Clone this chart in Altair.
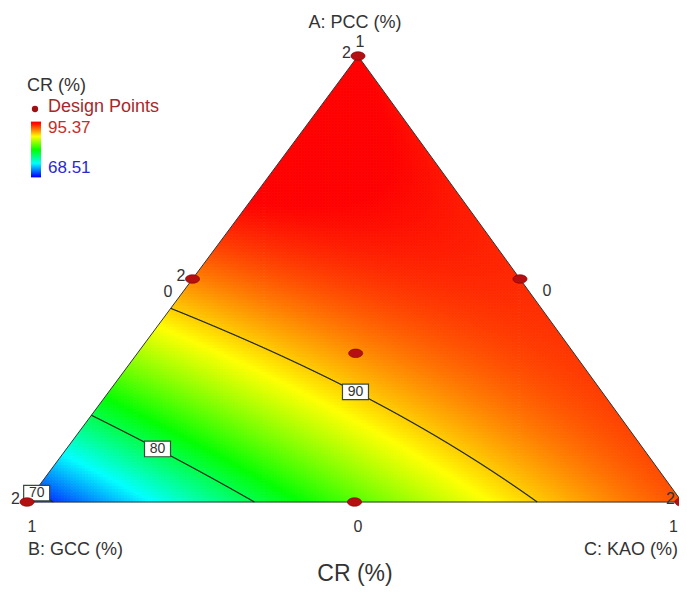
import numpy as np
import pandas as pd
import altair as alt

# ---------------- data ----------------
axis_titles = ["A: PCC (%)", "B: GCC (%)", "C: KAO (%)"]
response_title = "CR (%)"
cr_low, cr_high = 68.51, 95.37
# Scheffe quadratic mixture model: A, B, C, AB, AC, BC
model_terms = ["A", "B", "C", "AB", "AC", "BC"]
model_coefs = [95.37, 68.51, 93.28, 40.0, 0.0, 12.75]
contour_levels = [70, 80, 90]
contour_label_A = [0.02, 0.119, 0.247]
# design points (fractions of A, B, C) and replicate counts
design_A = [1.0, 0.0, 0.0, 0.5, 0.5, 0.0, 1 / 3]
design_B = [0.0, 1.0, 0.0, 0.5, 0.0, 0.5, 1 / 3]
design_C = [0.0, 0.0, 1.0, 0.0, 0.5, 0.5, 1 / 3]
design_reps = [2, 2, 2, 2, 1, 1, 1]
color_stops = ["#0000ff", "#00ffff", "#00ff00", "#ffff00", "#ff0000"]

# ---------------- layout ----------------
W, H = 671, 578
VA = (350.0, 48.0)   # vertex A (top)
VB = (19.0, 494.0)   # vertex B (bottom-left)
VC = (674.0, 494.0)  # vertex C (bottom-right)
FONT = "Liberation Sans"
TXT = "#333333"

xs = alt.Scale(domain=[0, W], nice=False, zero=False)
ys = alt.Scale(domain=[0, H], nice=False, zero=False, reverse=True)
stop_dom = list(np.linspace(cr_low, cr_high, len(color_stops)))
cscale = alt.Scale(domain=stop_dom, range=color_stops, clamp=True, interpolate="rgb")


def model(a, b, c):
    bA, bB, bC, bAB, bAC, bBC = model_coefs
    return bA * a + bB * b + bC * c + bAB * a * b + bAC * a * c + bBC * b * c


def to_xy(a, b, c):
    return (VA[0] * a + VB[0] * b + VC[0] * c, VA[1] * a + VB[1] * b + VC[1] * c)


def solve_C(a, level):
    bA, bB, bC, bAB, bAC, bBC = model_coefs
    qa = -bBC
    qb = -bB + bC - bAB * a + bAC * a + bBC * (1 - a)
    qc = bA * a + bB * (1 - a) + bAB * a * (1 - a) - level
    if abs(qa) < 1e-12:
        roots = [-qc / qb]
    else:
        d = qb * qb - 4 * qa * qc
        if d < 0:
            return None
        roots = [(-qb + np.sqrt(d)) / (2 * qa), (-qb - np.sqrt(d)) / (2 * qa)]
    ok = [r for r in roots if -1e-9 <= r <= 1 - a + 1e-9]
    return min(ok) if ok else None


# grid of cells
step = 3.0
rows = []
for cy in np.arange(VA[1] - step, VB[1] + step, step):
    a = (VB[1] - cy) / (VB[1] - VA[1])
    if a > 1.005:
        continue
    for cx in np.arange(VB[0] - step, VC[0] + step, step):
        c = (cx - VB[0] - a * (VA[0] - VB[0])) / (VC[0] - VB[0])
        b = 1 - a - c
        if a < -0.012 or b < -0.012 or c < -0.012:
            continue
        aa, bb, cc = max(a, 0), max(b, 0), max(c, 0)
        s = aa + bb + cc
        rows.append((round(cx, 1), round(cy, 1), round(model(aa / s, bb / s, cc / s), 2)))
grid = pd.DataFrame(rows, columns=["cx", "cy", "v"])

surface = alt.Chart(grid).transform_calculate(
    x0="datum.cx - 1.85", x1="datum.cx + 1.85", y0="datum.cy - 1.85", y1="datum.cy + 1.85"
).mark_rect(strokeWidth=0).encode(
    x=alt.X("x0:Q", scale=xs, axis=None), x2="x1:Q",
    y=alt.Y("y0:Q", scale=ys, axis=None), y2="y1:Q",
    color=alt.Color("v:Q", scale=cscale, legend=None),
)

# masks outside triangle
lm = pd.DataFrame({"x": [0, VB[0], VA[0]], "y": [VB[1], VB[1], VA[1]], "y2": [0, 0, 0]})
rm = pd.DataFrame({"x": [VA[0], VC[0], W + 10], "y": [VA[1], VC[1], VC[1]], "y2": [0, 0, 0]})
mask_l = alt.Chart(lm).mark_area(color="white").encode(
    x=alt.X("x:Q", scale=xs, axis=None), y=alt.Y("y:Q", scale=ys, axis=None), y2="y2:Q")
mask_r = alt.Chart(rm).mark_area(color="white").encode(
    x=alt.X("x:Q", scale=xs, axis=None), y=alt.Y("y:Q", scale=ys, axis=None), y2="y2:Q")
bm = pd.DataFrame({"x": [0], "x2": [W + 10], "y": [VB[1] + 0.3], "y2": [VB[1] + 15]})
mask_b = alt.Chart(bm).mark_rect(color="white").encode(
    x=alt.X("x:Q", scale=xs, axis=None), x2="x2:Q",
    y=alt.Y("y:Q", scale=ys, axis=None), y2="y2:Q")

# triangle border
tri = pd.DataFrame({"x": [VA[0], VB[0], VC[0], VA[0]], "y": [VA[1], VB[1], VC[1], VA[1]], "o": [0, 1, 2, 3]})
border = alt.Chart(tri).mark_line(color="#333333", strokeWidth=1).encode(
    x=alt.X("x:Q", scale=xs, axis=None), y=alt.Y("y:Q", scale=ys, axis=None), order="o:Q")

# contours
crow = []
lab = []
for lev, la in zip(contour_levels, contour_label_A):
    pts = []
    for a in np.linspace(0, 1, 4001):
        c = solve_C(a, lev)
        if c is None:
            continue
        pts.append((a, c))
    bA, bB, bC, bAB, bAC, bBC = model_coefs
    qa, qb, qc = -bAB, bA - bB + bAB, bB - lev
    d = qb * qb - 4 * qa * qc
    if d >= 0:
        for r in [(-qb + np.sqrt(d)) / (2 * qa), (-qb - np.sqrt(d)) / (2 * qa)]:
            if 0 <= r <= 1:
                pts.append((r, 0.0))
    pts.sort()
    for i, (a, c) in enumerate(pts):
        x, y = to_xy(a, 1 - a - c, c)
        crow.append({"x": x, "y": y, "lev": lev, "o": i})
    c = solve_C(la, lev)
    x, y = to_xy(la, 1 - la - c, c)
    lab.append({"x": x, "y": y, "t": str(lev)})
cdf = pd.DataFrame(crow)
contours = alt.Chart(cdf).mark_line(color="#1e2a1e", strokeWidth=1.2).encode(
    x=alt.X("x:Q", scale=xs, axis=None), y=alt.Y("y:Q", scale=ys, axis=None),
    detail="lev:N", order="o:Q")
ldf = pd.DataFrame(lab)
box_path = "M-1,-0.6L1,-0.6L1,0.6L-1,0.6Z"
lab_box = alt.Chart(ldf).mark_point(shape=box_path, size=676, filled=True, fill="white",
                                     stroke="#3a4a3a", strokeWidth=1.2, opacity=1).encode(
    x=alt.X("x:Q", scale=xs, axis=None), y=alt.Y("y:Q", scale=ys, axis=None))
lab_txt = alt.Chart(ldf).mark_text(font=FONT, fontSize=14, color=TXT, baseline="middle").encode(
    x=alt.X("x:Q", scale=xs, axis=None), y=alt.Y("y:Q", scale=ys, axis=None), text="t:N")

# design points
dp = []
for a, b, c, r in zip(design_A, design_B, design_C, design_reps):
    x, y = to_xy(a, b, c)
    dp.append({"x": x, "y": y, "t": str(r) if r > 1 else ""})
dpdf = pd.DataFrame(dp)
ell_path = "M-1,0A1,0.6,0,1,0,1,0A1,0.6,0,1,0,-1,0Z"
points = alt.Chart(dpdf).mark_point(shape=ell_path, size=200, filled=True, fill="#b50f12",
                                     stroke="#7a0000", strokeWidth=0.6, opacity=1).encode(
    x=alt.X("x:Q", scale=xs, axis=None), y=alt.Y("y:Q", scale=ys, axis=None))
reps = alt.Chart(dpdf).mark_text(font=FONT, fontSize=16, color=TXT, align="right",
                                  baseline="middle", dx=-7, dy=-3).encode(
    x=alt.X("x:Q", scale=xs, axis=None), y=alt.Y("y:Q", scale=ys, axis=None), text="t:N")


def text_layer(xv, yv, tv, size, color=TXT, align="center", baseline="middle"):
    df = pd.DataFrame({"x": xv, "y": yv, "t": tv})
    return alt.Chart(df).mark_text(font=FONT, fontSize=size, color=color, align=align,
                                   baseline=baseline).encode(
        x=alt.X("x:Q", scale=xs, axis=None), y=alt.Y("y:Q", scale=ys, axis=None), text="t:N")


ticks = text_layer([352, 160, 539, 24, 350], [34, 284, 283, 519, 519],
                   ["1", "0", "0", "1", "0"], 16)
tick_c = text_layer([670], [519], ["1"], 16, align="right")
title_a = text_layer([347], [14.5], [axis_titles[0]], 18)
title_b = text_layer([20], [542], [axis_titles[1]], 18, align="left")
title_c = text_layer([670], [542], [axis_titles[2]], 18, align="right")
main_title = text_layer([347], [573], [response_title], 23, baseline="alphabetic")

# legend
leg_title = text_layer([19], [78], [response_title], 18, align="left")
leg_dp = text_layer([40], [99], ["Design Points"], 18, color="#a8282a", align="left")
leg_hi = text_layer([40], [120], [f"{cr_high:.2f}"], 17, color="#c0302a", align="left")
leg_lo = text_layer([40], [160], [f"{cr_low:.2f}"], 17, color="#2a2acc", align="left")
leg_dot = alt.Chart(pd.DataFrame({"x": [27], "y": [101]})).mark_point(
    shape="circle", size=40, filled=True, fill="#a01010", opacity=1).encode(
    x=alt.X("x:Q", scale=xs, axis=None), y=alt.Y("y:Q", scale=ys, axis=None))
nb = 56
bar_top, bar_bot = 114.0, 169.0
bv = np.linspace(cr_low, cr_high, nb)
hseg = (bar_bot - bar_top) / nb
bdf = pd.DataFrame({
    "v": bv,
    "y0": [bar_bot - i * hseg + 0.4 for i in range(nb)],
    "y1": [bar_bot - (i + 1) * hseg - 0.4 for i in range(nb)],
    "x0": [23] * nb, "x1": [33] * nb,
})
leg_bar = alt.Chart(bdf).mark_rect(strokeWidth=0).encode(
    x=alt.X("x0:Q", scale=xs, axis=None), x2="x1:Q",
    y=alt.Y("y0:Q", scale=ys, axis=None), y2="y1:Q",
    color=alt.Color("v:Q", scale=cscale, legend=None))

chart = alt.layer(
    surface, mask_l, mask_r, mask_b, border, contours, lab_box, lab_txt,
    points, reps, ticks, tick_c, title_a, title_b, title_c, main_title,
    leg_bar, leg_title, leg_dp, leg_hi, leg_lo, leg_dot,
).properties(
    width=W, height=H, autosize=alt.AutoSizeParams(type="none"), padding=0,
).configure_view(stroke=None)

chart.save("out.html", embed_options={"renderer": "svg", "actions": False})
